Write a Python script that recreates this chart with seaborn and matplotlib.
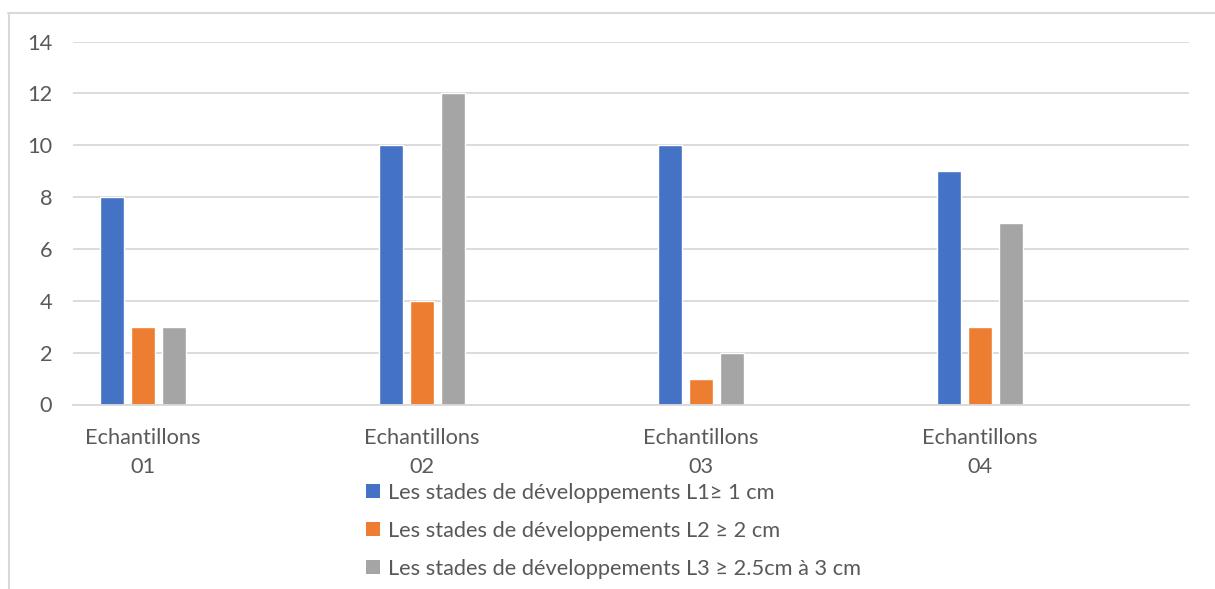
import matplotlib
matplotlib.use("Agg")
import matplotlib.pyplot as plt
from matplotlib.patches import Patch
from matplotlib.lines import Line2D
import seaborn as sns
import pandas as pd

# Sample groups and developmental stages
categories = ["Echantillons\n01", "Echantillons\n02", "Echantillons\n03", "Echantillons\n04"]
series_names = [
    "Les stades de développements L1≥ 1 cm",
    "Les stades de développements L2 ≥ 2 cm",
    "Les stades de développements L3 ≥ 2.5cm à 3 cm",
]
l1_values = [8, 10, 10, 9]
l2_values = [3, 4, 1, 3]
l3_values = [3, 12, 2, 7]
y_ticks = [0, 2, 4, 6, 8, 10, 12, 14]

colors = ["#4472C4", "#ED7D31", "#A5A5A5"]
text_color = "#595959"
grid_color = "#D9D9D9"

rows = []
for name, vals in zip(series_names, [l1_values, l2_values, l3_values]):
    for cat, v in zip(categories, vals):
        rows.append({"echantillon": cat, "stade": name, "valeur": v})
df = pd.DataFrame(rows)

sns.set_theme(style="white")
plt.rcParams["font.family"] = ["Lato", "DejaVu Sans"]

FS = 15.7
W, H = 1215, 589
fig = plt.figure(figsize=(W / 100, H / 100), dpi=100)
ax = fig.add_axes([73 / W, 1 - 404.5 / H, (1189 - 73) / W, (404.5 - 41.5) / H])

sns.barplot(
    data=df, x="echantillon", y="valeur", hue="stade",
    order=categories, hue_order=series_names, palette=colors,
    saturation=1, width=0.333, gap=0.22, legend=False, ax=ax,
    errorbar=None,
)

ax.set_xlim(-0.25, 3.75)
ax.set_ylim(0, 14)
ax.set_yticks(y_ticks)
ax.set_yticklabels([str(t) for t in y_ticks])
ax.set_xlabel("")
ax.set_ylabel("")

ax.set_axisbelow(True)
ax.yaxis.grid(True, color=grid_color, linewidth=1.3)
ax.xaxis.grid(False)
for side in ["top", "right", "left"]:
    ax.spines[side].set_visible(False)
ax.spines["bottom"].set_color(grid_color)
ax.spines["bottom"].set_linewidth(1.3)

ax.tick_params(axis="y", length=0, pad=15, labelsize=FS, labelcolor=text_color)
ax.tick_params(axis="x", length=0, pad=17, labelsize=FS, labelcolor=text_color)
for lbl in ax.get_xticklabels():
    lbl.set_linespacing(1.58)

handles = [Patch(facecolor=c, edgecolor="none") for c in colors]
fig.legend(
    handles, series_names, loc="upper left",
    bbox_to_anchor=(366 / W, 1 - 483 / H), frameon=False,
    fontsize=FS, labelcolor=text_color, handlelength=0.62, handleheight=0.62,
    handletextpad=0.4, labelspacing=0.82, borderpad=0, borderaxespad=0,
)

# Light outer frame along the top and left edges
fig.add_artist(Line2D([8 / W, 1.0], [1 - 12.5 / H, 1 - 12.5 / H], color=grid_color, linewidth=1.5))
fig.add_artist(Line2D([9 / W, 9 / W], [0.0, 1 - 12.5 / H], color=grid_color, linewidth=1.5))

fig.savefig("out.png", dpi=100, facecolor="white")
